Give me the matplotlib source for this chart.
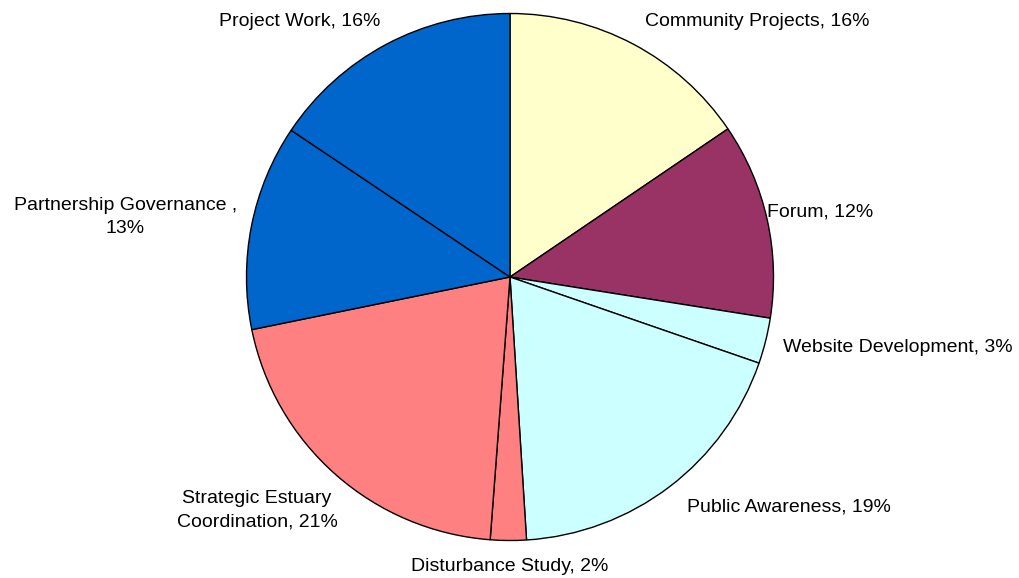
import matplotlib
matplotlib.use("Agg")
import matplotlib.pyplot as plt

# Slice data, clockwise from 12 o'clock (percent shares)
categories = [
    "Community Projects", "Forum", "Website Development", "Public Awareness",
    "Disturbance Study", "Strategic Estuary\nCoordination",
    "Partnership Governance ,\n", "Project Work",
]
shares = [15.5, 12.0, 2.8, 18.7, 2.2, 20.6, 12.6, 15.6]
shown_pct = ["16%", "12%", "3%", "19%", "2%", "21%", "13%", "16%"]
colors = ["#FFFFCC", "#993366", "#CCFFFF", "#CCFFFF",
          "#FF8080", "#FF8080", "#0066CC", "#0066CC"]

# label anchor points in pie units (radius = 1)
label_pos = [(0.94, 0.97), (1.177, 0.245), (1.47, -0.267), (1.057, -0.873),
             (0.0, -1.10), (-0.96, -0.886), (-1.46, 0.228), (-0.80, 0.97)]

plt.rcParams["font.family"] = ["Liberation Sans", "DejaVu Sans"]

fig = plt.figure(figsize=(10.2, 5.78), dpi=100)
ax = fig.add_axes([0, 0, 1, 1])
ax.pie(shares, colors=colors, startangle=90, counterclock=False,
       radius=1.0, wedgeprops=dict(edgecolor="black", linewidth=1.0))

scale = 263.5
ax.set_xlim(-510 / scale, 510 / scale)
ax.set_ylim(-301 / scale, 277 / scale)
ax.set_aspect("auto")
ax.axis("off")

for name, pct, (x, y) in zip(categories, shown_pct, label_pos):
    if name.endswith("\n"):
        text = name + pct
    else:
        text = name + ", " + pct
    ax.text(x, y, text, ha="center", va="center", fontsize=14,
            linespacing=1.5, color="black")

fig.savefig("out.png", dpi=100, facecolor="white")
